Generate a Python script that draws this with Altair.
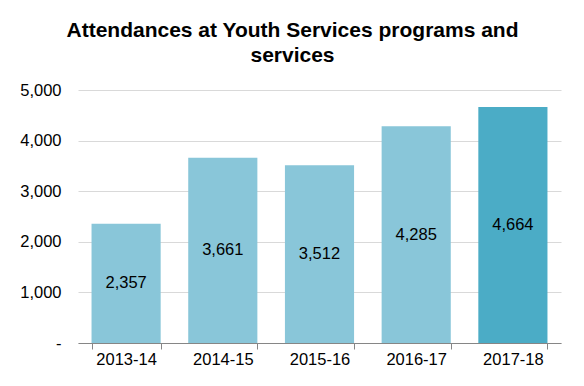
import altair as alt
import pandas as pd

years = ["2013-14", "2014-15", "2015-16", "2016-17", "2017-18"]
values = [2357, 3661, 3512, 4285, 4664]
colors = ["#89C6D9", "#89C6D9", "#89C6D9", "#89C6D9", "#4BACC6"]

df = pd.DataFrame({"year": years, "value": values, "color": colors})

FONT = "Liberation Sans"
FS = 16.5

x = alt.X("year:N", sort=years, title=None,
          scale=alt.Scale(paddingInner=0.285, paddingOuter=0.14),
          axis=alt.Axis(labelAngle=0, labelFontSize=FS, labelColor="#000000",
                        labelFont=FONT, tickBand="extent", tickColor="#868686",
                        domainColor="#868686", tickSize=6, labelPadding=2,
                        grid=False))

y = alt.Y("value:Q", title=None,
          scale=alt.Scale(domain=[0, 5000]),
          axis=alt.Axis(values=[0, 1000, 2000, 3000, 4000, 5000],
                        labelExpr="datum.value == 0 ? '-' : format(datum.value, ',')",
                        labelFontSize=FS, labelColor="#000000", labelFont=FONT,
                        ticks=False, domain=False, gridColor="#D9D9D9",
                        labelPadding=17))

base = alt.Chart(df)

bars = base.mark_bar().encode(
    x=x, y=y, color=alt.Color("color:N", scale=None)
)

text = base.transform_calculate(mid="datum.value / 2").mark_text(
    fontSize=FS, font=FONT, color="#000000"
).encode(
    x=alt.X("year:N", sort=years),
    y=alt.Y("mid:Q"),
    text=alt.Text("value:Q", format=",")
)

chart = alt.layer(bars, text).properties(
    width=483, height=253,
    autosize=alt.AutoSizeParams(type="none"),
    padding={"left": 70, "top": 82, "right": 15, "bottom": 30},
    title=alt.Title(["Attendances at Youth Services programs and", "services"],
                    fontSize=21, font=FONT, fontWeight="bold", color="#000000",
                    anchor="middle", dx=-27, offset=16, lineHeight=25)
).configure_view(stroke=None)

chart.save("out.html", embed_options={"renderer": "svg", "actions": False})
